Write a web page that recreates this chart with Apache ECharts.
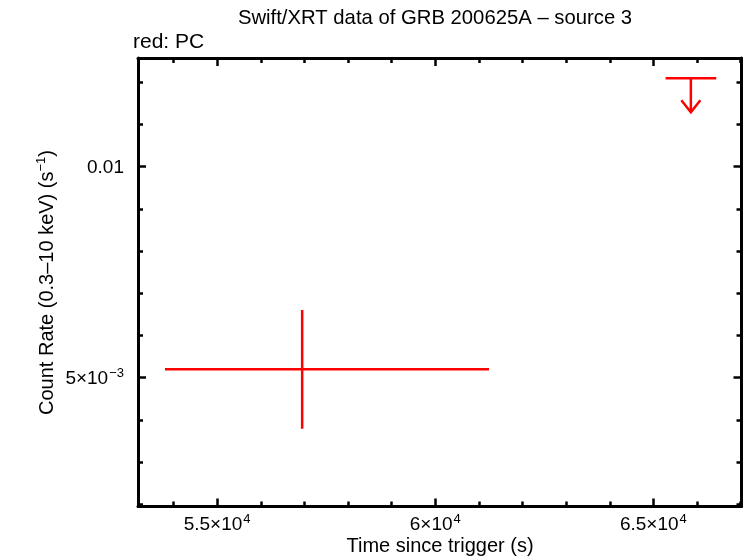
<!DOCTYPE html>
<html>
<head>
<meta charset="utf-8">
<script src="https://cdn.jsdelivr.net/npm/echarts@6/dist/echarts.min.js"></script>
<style>html,body{margin:0;padding:0;background:#fff}#c{width:746px;height:558px}</style>
</head>
<body>
<div id="c"></div>
<script>
// ---- data ----
const pcTime   = [56949];
const pcTimeLo = [53804];
const pcTimeHi = [61232];
const pcRate   = [0.005199];
const pcRateLo = [0.003791];
const pcRateHi = [0.006604];

const ulTime   = [65859];
const ulTimeLo = [65280];
const ulTimeHi = [66441];
const ulRate   = [0.012095];

const xMajor = [55000, 60000, 65000];
const xMajorMant = ['5.5', '6', '6.5'];
const xMajorExp = '4';
const xMinor = [54000, 56000, 57000, 58000, 59000, 61000, 62000, 63000, 64000, 66000, 67000];
const yMajor = [0.005, 0.01];
const yMajorLabels = ['{n|5×10}{s|−3}', '{n|0.01}'];
const yMinor = [0.002, 0.003, 0.004, 0.006, 0.007, 0.008, 0.009, 0.011, 0.012];

const xMin = 53186, xMax = 67020;
const yMin = 0.001948, yMax = 0.012576;

const FONT = 'Liberation Sans';
const RED = '#ff0000';

const pcData = pcTime.map((t, i) => [t, pcRate[i], pcTimeLo[i], pcTimeHi[i], pcRateLo[i], pcRateHi[i]]);
const ulData = ulTime.map((t, i) => [t, ulRate[i], ulTimeLo[i], ulTimeHi[i]]);

const richLbl = {
  n: {fontSize: 19, fontFamily: FONT, color: '#000', lineHeight: 22, verticalAlign: 'bottom'},
  s: {fontSize: 13, fontFamily: FONT, color: '#000', lineHeight: 22, verticalAlign: 'top', padding: [0, 0, 0, 1]}
};

function baseAxis(extra) {
  return Object.assign({
    type: 'value', gridIndex: 0, splitLine: {show: false},
    axisLine: {show: false},
    axisLabel: {show: false},
    axisTick: {show: true, inside: true, length: 8, lineStyle: {color: '#000', width: 2.5}}
  }, extra);
}

const xAxes = [
  baseAxis({position: 'bottom', min: xMin, max: xMax,
    axisLine: {show: true, onZero: false, lineStyle: {color: '#000', width: 3}},
    axisTick: {show: true, inside: true, length: 8, customValues: xMajor, lineStyle: {color: '#000', width: 2.5}},
    axisLabel: {show: true, customValues: xMajor, margin: 6, rich: richLbl,
      formatter: v => { const i = xMajor.indexOf(v); return '{n|' + xMajorMant[i] + '×10}{s|' + xMajorExp + '}'; }}}),
  baseAxis({position: 'bottom', min: xMin, max: xMax,
    axisTick: {show: true, inside: true, length: 5, customValues: xMinor, lineStyle: {color: '#000', width: 2.5}}}),
  baseAxis({position: 'top', min: xMin, max: xMax,
    axisLine: {show: true, onZero: false, lineStyle: {color: '#000', width: 3}},
    axisTick: {show: true, inside: true, length: 8, customValues: xMajor, lineStyle: {color: '#000', width: 2.5}}}),
  baseAxis({position: 'top', min: xMin, max: xMax,
    axisTick: {show: true, inside: true, length: 5, customValues: xMinor, lineStyle: {color: '#000', width: 2.5}}})
];
const yAxes = [
  baseAxis({position: 'left', min: yMin, max: yMax,
    axisLine: {show: true, onZero: false, lineStyle: {color: '#000', width: 3}},
    axisTick: {show: true, inside: true, length: 8, customValues: yMajor, lineStyle: {color: '#000', width: 2.5}},
    axisLabel: {show: true, customValues: yMajor, margin: 14, rich: richLbl,
      formatter: v => yMajorLabels[yMajor.indexOf(v)]}}),
  baseAxis({position: 'left', min: yMin, max: yMax,
    axisTick: {show: true, inside: true, length: 5, customValues: yMinor, lineStyle: {color: '#000', width: 2.5}}}),
  baseAxis({position: 'right', min: yMin, max: yMax,
    axisLine: {show: true, onZero: false, lineStyle: {color: '#000', width: 3}},
    axisTick: {show: true, inside: true, length: 8, customValues: yMajor, lineStyle: {color: '#000', width: 2.5}}}),
  baseAxis({position: 'right', min: yMin, max: yMax,
    axisTick: {show: true, inside: true, length: 5, customValues: yMinor, lineStyle: {color: '#000', width: 2.5}}})
];

const chart = echarts.init(document.getElementById('c'), null, {renderer: 'canvas'});
chart.setOption({
  backgroundColor: '#fff',
  animation: false,
  grid: {left: 138, top: 58, right: 4.5, bottom: 51.5},
  xAxis: xAxes,
  yAxis: yAxes,
  graphic: [
    {type: 'text', x: 435, y: 18.5, style: {text: 'Swift/XRT data of GRB 200625A – source 3', fontSize: 20.3, fontFamily: FONT, fill: '#000', align: 'center', verticalAlign: 'middle'}},
    {type: 'text', x: 133, y: 42, style: {text: 'red: PC', fontSize: 21, fontFamily: FONT, fill: '#000', align: 'left', verticalAlign: 'middle'}},
    {type: 'text', x: 440, y: 546, style: {text: 'Time since trigger (s)', fontSize: 20, fontFamily: FONT, fill: '#000', align: 'center', verticalAlign: 'middle'}},
    {type: 'text', x: 46, y: 282.5, rotation: Math.PI / 2,
      style: {text: '{n|Count Rate (0.3–10 keV) (s}{s|−1}{n|)}', align: 'center', verticalAlign: 'middle',
        rich: {n: {fontSize: 20, fontFamily: FONT, fill: '#000', lineHeight: 22, verticalAlign: 'bottom'},
               s: {fontSize: 13, fontFamily: FONT, fill: '#000', lineHeight: 22, verticalAlign: 'top'}}}}
  ],
  series: [
    {
      type: 'custom', name: 'PC', xAxisIndex: 0, yAxisIndex: 0, data: pcData, clip: false,
      renderItem: (params, api) => {
        const y = api.value(1);
        const a = api.coord([api.value(2), y]);
        const b = api.coord([api.value(3), y]);
        const c = api.coord([api.value(0), api.value(4)]);
        const d = api.coord([api.value(0), api.value(5)]);
        const st = {stroke: RED, lineWidth: 2.5};
        return {type: 'group', children: [
          {type: 'line', shape: {x1: a[0], y1: a[1], x2: b[0], y2: b[1]}, style: st},
          {type: 'line', shape: {x1: c[0], y1: c[1], x2: d[0], y2: d[1]}, style: st}
        ]};
      }
    },
    {
      type: 'custom', name: 'PC upper limit', xAxisIndex: 0, yAxisIndex: 0, data: ulData, clip: false,
      renderItem: (params, api) => {
        const y = api.value(1);
        const a = api.coord([api.value(2), y]);
        const b = api.coord([api.value(3), y]);
        const p = api.coord([api.value(0), y]);
        const len = 34, hw = 9.5, hh = 12;
        const st = {stroke: RED, lineWidth: 2.5, fill: null};
        return {type: 'group', children: [
          {type: 'line', shape: {x1: a[0], y1: a[1], x2: b[0], y2: b[1]}, style: st},
          {type: 'line', shape: {x1: p[0], y1: p[1], x2: p[0], y2: p[1] + len}, style: st},
          {type: 'polyline', shape: {points: [[p[0] - hw, p[1] + len - hh], [p[0], p[1] + len], [p[0] + hw, p[1] + len - hh]]}, style: st}
        ]};
      }
    }
  ]
});
</script>
</body>
</html>
